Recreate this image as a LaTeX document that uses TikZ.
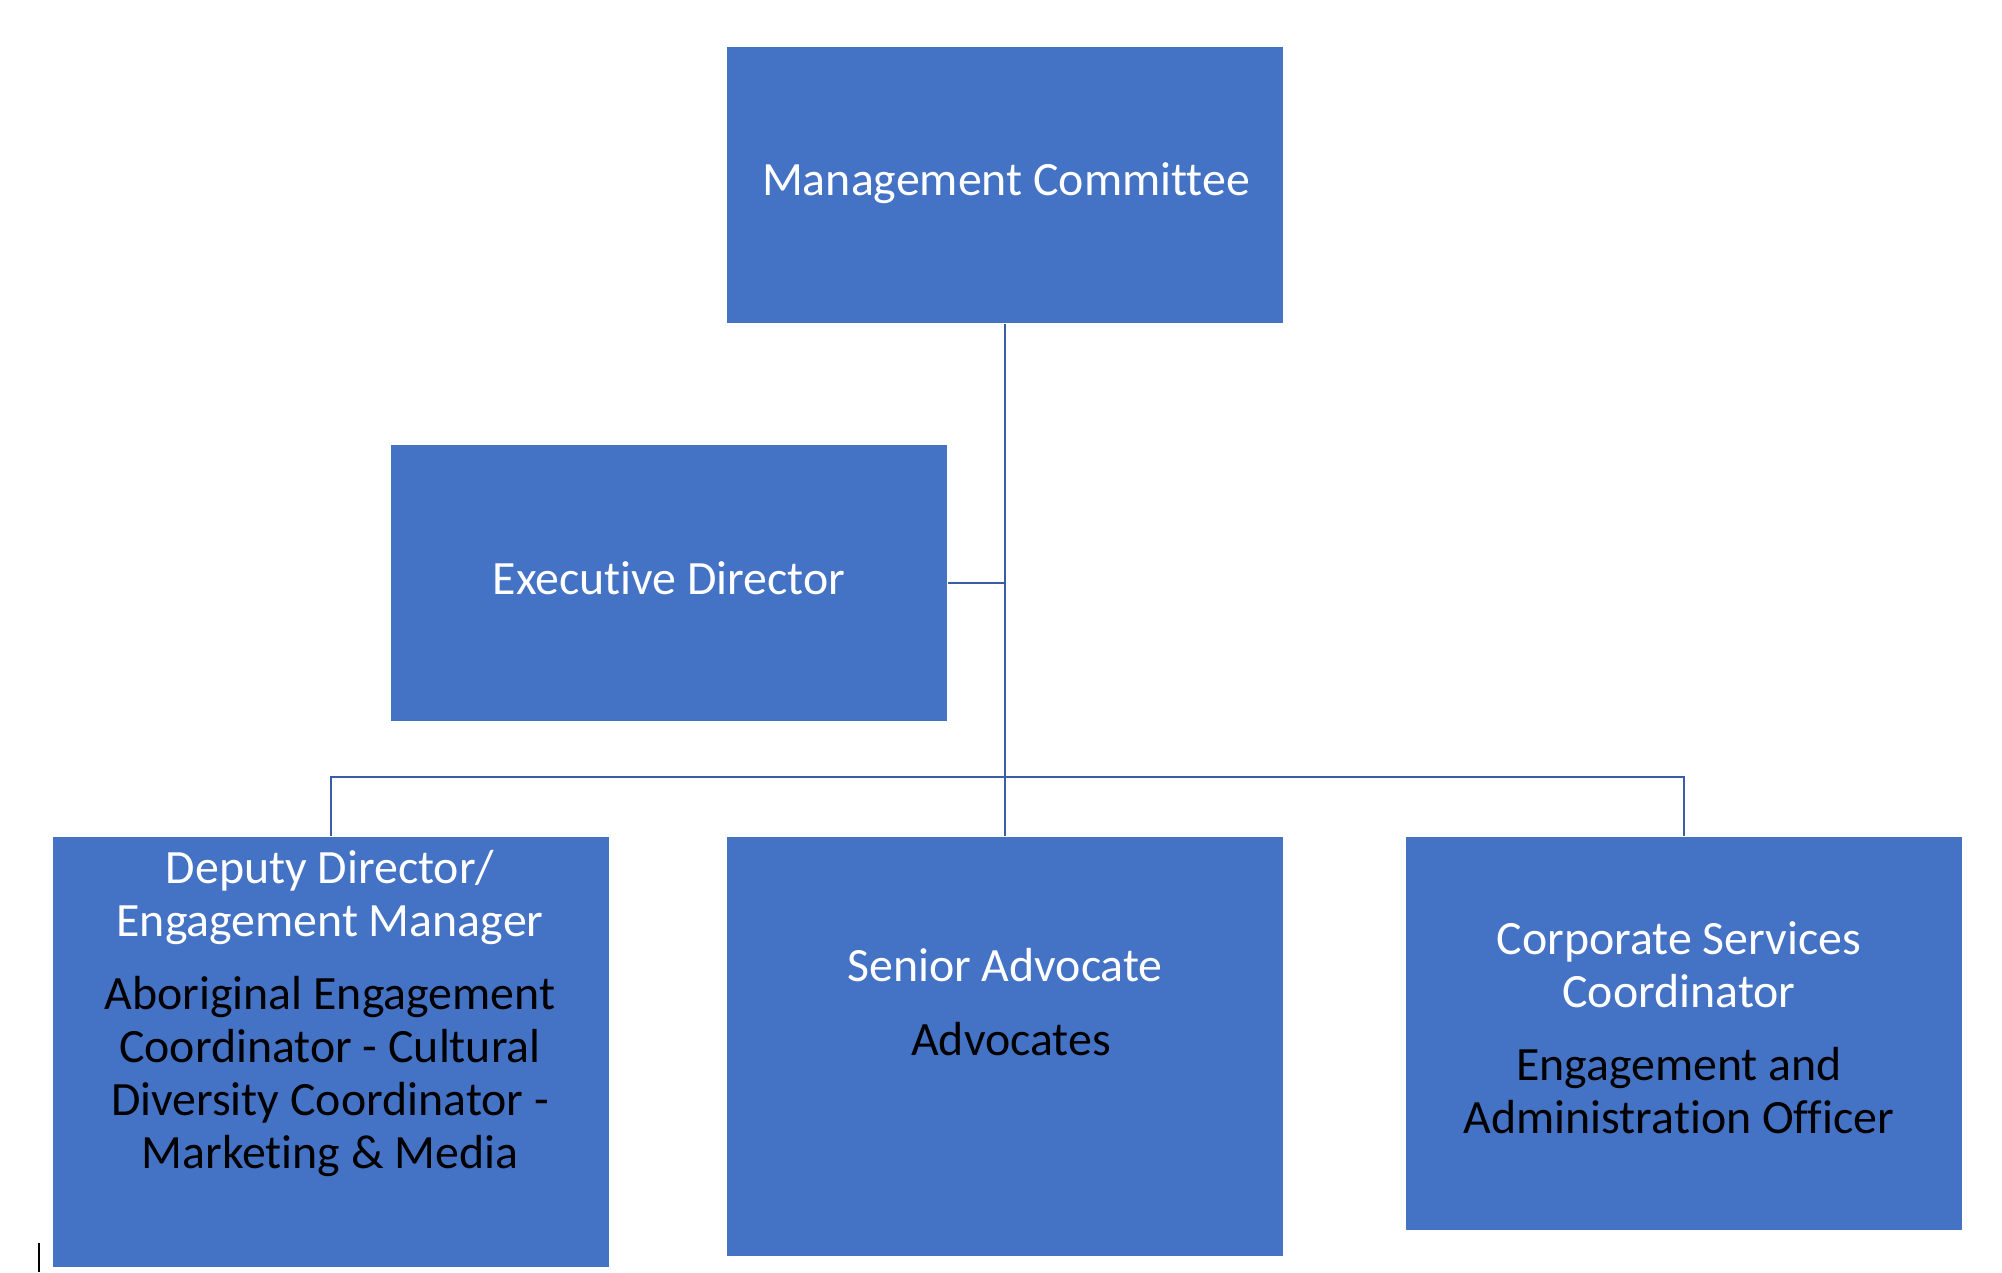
\documentclass[tikz,border=0pt]{standalone}
\usepackage{fontspec}
\setmainfont[Ligatures=NoCommon]{Carlito}
\usepackage{xcolor}
\usetikzlibrary{positioning}
\definecolor{boxblue}{HTML}{4472C4}
\definecolor{linkblue}{HTML}{3A5DA3}

\tikzset{
  unit/.style={fill=boxblue, draw=none, minimum width=5.56cm, inner sep=0pt},
  title/.style={text=white, align=center, font=\fontsize{13.6}{15}\selectfont},
  staff/.style={text=black, align=center, font=\fontsize{13.6}{15}\selectfont},
  link/.style={draw=linkblue, line width=0.6pt}
}

\begin{document}
\begin{tikzpicture}[x=0.01cm, y=-0.01cm]
  \useasboundingbox (0,0) rectangle (2002,1272);

\node[unit, minimum height=2.76cm, anchor=north west] (mc) at (726,46) {};
\node[unit, minimum height=2.76cm, anchor=north west] (ed) at (390,444) {};
\node[unit, minimum height=4.30cm, anchor=north west] (dd) at (52,836) {};
\node[unit, minimum height=4.19cm, anchor=north west] (sa) at (726,836) {};
\node[unit, minimum height=3.93cm, anchor=north west] (cs) at (1405,836) {};

\draw[link] (mc.south) -- (sa.north);
\draw[link] (ed.east) -- (ed.east -| mc.south);
\draw[link] (dd.north) -- ++(0,-59) -| (cs.north);

% base = baseline of the last line
\node[title, anchor=base] (mctext) at (1006,195) {Management Committee};
\node[title, anchor=base] (edtext) at (669,594) {Executive Director};

\node[title, anchor=base] (ddtitle) at (330,936) {Deputy Director/\\Engagement Manager};
\node[staff, anchor=base] (ddstaff) at (330,1168)
  {Aboriginal Engagement\\Coordinator - Cultural\\Diversity Coordinator -\\Marketing \& Media};

\node[title, anchor=base] (satitle) at (1005,981) {Senior Advocate};
\node[staff, anchor=base] (sastaff) at (1011,1055) {Advocates};

\node[title, anchor=base] (cstitle) at (1679,1007) {Corporate Services\\Coordinator};
\node[staff, anchor=base] (csstaff) at (1679,1133) {Engagement and\\Administration Officer};

\draw[line width=0.6pt] (39,1243) -- (39,1272);

\end{tikzpicture}
\end{document}
